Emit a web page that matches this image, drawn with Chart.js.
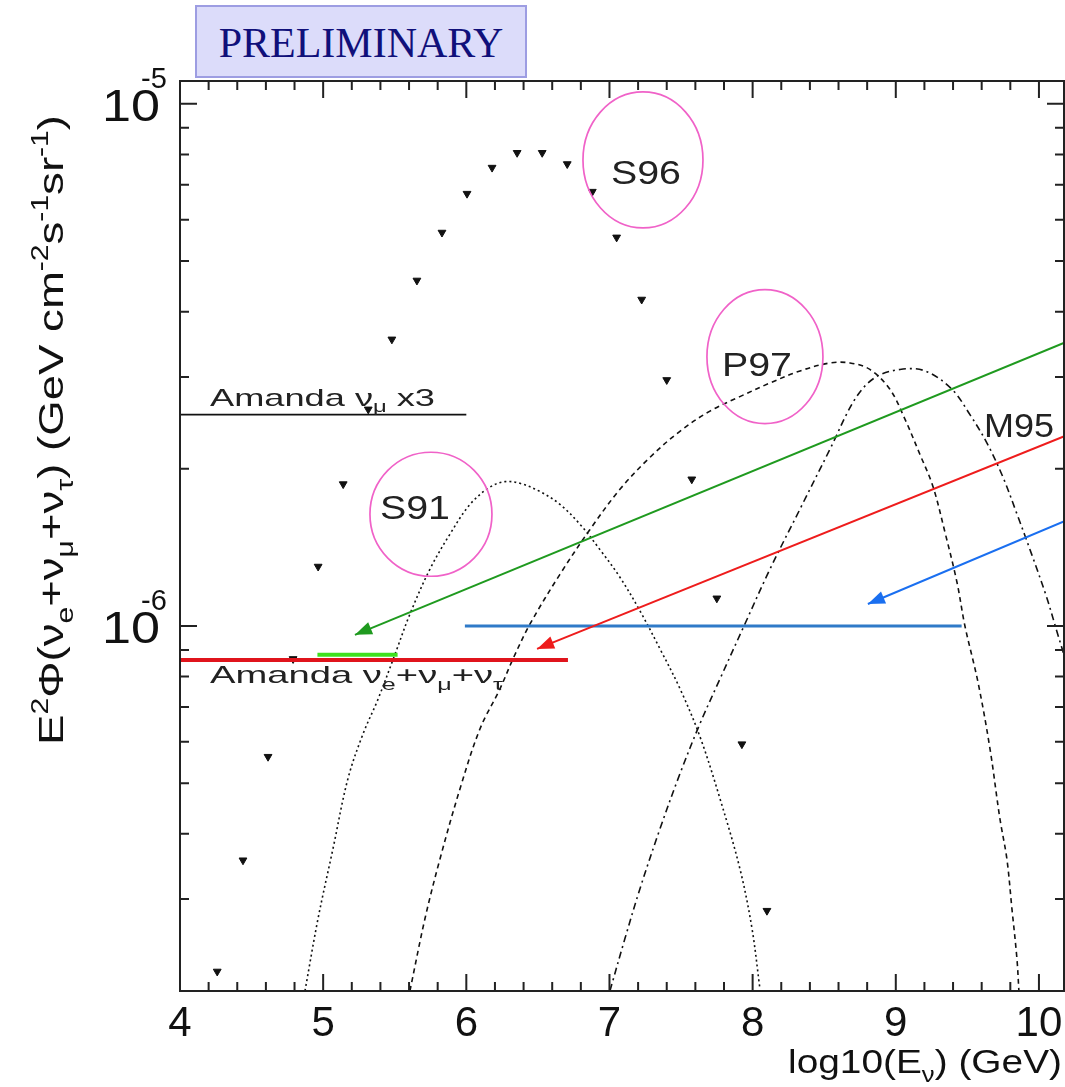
<!DOCTYPE html>
<html><head><meta charset="utf-8">
<script src="https://cdn.jsdelivr.net/npm/chart.js@4/dist/chart.umd.min.js"></script>
<style>
html,body{margin:0;padding:0;background:#fff;}
#wrap{position:relative;width:1065px;height:1087px;overflow:hidden;}
#c{position:absolute;left:0;top:0;}
#prelim{position:absolute;left:195px;top:5px;width:332px;height:73px;box-sizing:border-box;background:#dcdcfa;border:2px solid #9d9de2;font-family:'Liberation Serif','Times New Roman',serif;font-size:42px;color:#10107a;text-align:center;line-height:72px;}
</style></head><body>
<div id="wrap"><canvas id="c" width="1065" height="1087"></canvas><div id="prelim">PRELIMINARY</div></div>
<script>
// ---------- data ----------
const s96X = [4.26,4.44,4.615,4.79,4.965,5.14,5.315,5.48,5.655,5.83,6.005,6.18,6.355,6.53,6.705,6.88,7.05,7.225,7.40,7.575,7.75,7.925,8.10];
const s96Y = [2.18e-7,3.56e-7,5.62e-7,8.65e-7,1.30e-6,1.87e-6,2.60e-6,3.54e-6,4.59e-6,5.67e-6,6.73e-6,7.55e-6,8.06e-6,8.06e-6,7.67e-6,6.79e-6,5.55e-6,4.22e-6,2.96e-6,1.91e-6,1.13e-6,5.94e-7,2.85e-7];

const s91X = [4.873,4.964,5.069,5.173,5.278,5.383,5.502,5.606,5.746,5.886,6.026,6.165,6.270,6.375,6.514,6.654,6.794,6.934,7.073,7.213,7.353,7.493,7.632,7.772,7.911,7.995,8.051];
const s91Y = [2.0e-7,2.75e-7,3.75e-7,5.10e-7,6.21e-7,7.24e-7,8.83e-7,1.054e-6,1.285e-6,1.50e-6,1.71e-6,1.845e-6,1.89e-6,1.876e-6,1.81e-6,1.71e-6,1.566e-6,1.40e-6,1.24e-6,1.069e-6,9.04e-7,7.58e-7,6.14e-7,4.67e-7,3.43e-7,2.64e-7,2.02e-7];

const p97X = [5.606,5.711,5.816,5.956,6.095,6.235,6.326,6.445,6.654,6.864,7.073,7.283,7.492,7.702,7.911,8.121,8.331,8.540,8.680,8.819,8.959,9.064,9.169,9.259,9.343,9.427,9.483,9.574,9.658,9.727,9.776,9.811,9.846,9.860];
const p97Y = [2.0e-7,2.75e-7,3.58e-7,4.88e-7,6.35e-7,7.58e-7,8.65e-7,1.009e-6,1.256e-6,1.531e-6,1.827e-6,2.104e-6,2.36e-6,2.58e-6,2.75e-6,2.92e-6,3.08e-6,3.19e-6,3.19e-6,3.10e-6,2.84e-6,2.49e-6,2.13e-6,1.853e-6,1.514e-6,1.214e-6,1.0e-6,7.81e-7,5.82e-7,4.28e-7,3.58e-7,2.88e-7,2.31e-7,2.0e-7];

const m95X = [7.003,7.108,7.213,7.353,7.492,7.632,7.772,7.946,8.121,8.331,8.540,8.715,8.854,9.029,9.204,9.392,9.518,9.637,9.748,9.846,9.950,10.056,10.126,10.195];
const m95Y = [2.0e-7,2.52e-7,3.14e-7,4.09e-7,5.21e-7,6.50e-7,7.92e-7,1.009e-6,1.285e-6,1.675e-6,2.18e-6,2.72e-6,2.99e-6,3.10e-6,3.08e-6,2.84e-6,2.54e-6,2.24e-6,1.93e-6,1.64e-6,1.37e-6,1.13e-6,9.75e-7,8.45e-7];

// Amanda limits
const amandaMuX = [4.0, 6.0];        const amandaMuY = [2.54e-6, 2.54e-6];
const amandaAllX = [4.0, 6.71];      const amandaAllY = [8.61e-7, 8.61e-7];
const greenLimX = [4.96, 5.52];      const greenLimY = [8.81e-7, 8.81e-7];
const blueLimX = [5.99, 9.46];       const blueLimY = [1.0e-6, 1.0e-6];

// annotation arrows (tail -> head)
const greenArrowX = [10.18, 5.222];  const greenArrowY = [3.49e-6, 9.62e-7];
const redArrowX = [10.18, 6.494];    const redArrowY = [2.31e-6, 9.04e-7];
const blueArrowX = [10.18, 8.805];   const blueArrowY = [1.589e-6, 1.102e-6];

// circled model labels
const labelNames = ['S96','P97','S91','M95'];
const labelX = [7.255, 8.030, 5.641, 9.860];
const labelY = [7.41e-6, 3.17e-6, 1.69e-6, 2.43e-6];
const circleNames = ['S96','P97','S91'];
const circleX = [7.234, 8.086, 5.753];
const circleY = [7.81e-6, 3.28e-6, 1.637e-6];

// axes
const xMin = 4, xMax = 10.175, yMin = 2.0e-7, yMax = 1.106e-5;
const xTickValues = [4,5,6,7,8,9,10];
const xTickLabels = ['4','5','6','7','8','9','10'];
const yTickValues = [1e-6, 1e-5];
const yTickBase = ['10','10'];
const yTickExp = ['-6','-5'];

// ---------- helpers ----------
const FONT = "'Liberation Sans', Arial, Helvetica, sans-serif";
function pts(xs, ys){ return xs.map((x,i)=>({x:x, y:ys[i]})); }
function segFont(s, size){ const f = (s.k==='n') ? size : size*0.66; return Math.round(f*10)/10 + 'px ' + FONT; }
function richWidth(ctx, segs, size){ let w=0; for(const s of segs){ ctx.font = segFont(s,size); w += ctx.measureText(s.t).width; } return w; }
function drawRich(ctx, segs, x, y, size, align, width, rot){
  const nat = richWidth(ctx, segs, size);
  const sx = width ? width/nat : 1;
  ctx.save();
  ctx.translate(x,y);
  if(rot) ctx.rotate(rot);
  ctx.scale(sx,1);
  ctx.textAlign='left'; ctx.textBaseline='alphabetic';
  let cx = align==='center' ? -nat/2 : (align==='right' ? -nat : 0);
  for(const s of segs){
    ctx.font = segFont(s,size);
    const dy = s.k==='sub' ? size*0.28 : (s.k==='sup' ? -size*0.42 : 0);
    ctx.fillText(s.t, cx, dy);
    cx += ctx.measureText(s.t).width;
  }
  ctx.restore();
}

const arrowSets = [
  {x:greenArrowX, y:greenArrowY, c:'#1f9a1f'},
  {x:redArrowX, y:redArrowY, c:'#ee1c1c'},
  {x:blueArrowX, y:blueArrowY, c:'#1a6ff0'}
];

const decorPlugin = {
  id:'decor',
  afterDatasetsDraw(chart){
    const ctx = chart.ctx, xs = chart.scales.x, ys = chart.scales.y, a = chart.chartArea;
    ctx.save();
    ctx.beginPath(); ctx.rect(a.left,a.top,a.right-a.left,a.bottom-a.top); ctx.clip();
    arrowSets.forEach(s=>{
      const x0 = xs.getPixelForValue(s.x[0]), y0 = ys.getPixelForValue(s.y[0]);
      const x1 = xs.getPixelForValue(s.x[1]), y1 = ys.getPixelForValue(s.y[1]);
      const ang = Math.atan2(y1-y0, x1-x0), L = 17, W = 6.5;
      ctx.fillStyle = s.c;
      ctx.beginPath();
      ctx.moveTo(x1,y1);
      ctx.lineTo(x1 - L*Math.cos(ang) + W*Math.sin(ang), y1 - L*Math.sin(ang) - W*Math.cos(ang));
      ctx.lineTo(x1 - L*Math.cos(ang) - W*Math.sin(ang), y1 - L*Math.sin(ang) + W*Math.cos(ang));
      ctx.closePath(); ctx.fill();
    });
    ctx.strokeStyle = '#f062c8'; ctx.lineWidth = 1.7;
    const radii = [[60,68],[58,67],[61,62]];
    circleX.forEach((cx,i)=>{
      ctx.beginPath();
      ctx.ellipse(xs.getPixelForValue(cx), ys.getPixelForValue(circleY[i]), radii[i][0], radii[i][1], 0, 0, Math.PI*2);
      ctx.stroke();
    });
    ctx.fillStyle = '#222';
    labelNames.forEach((n,i)=>{
      drawRich(ctx, [{t:n,k:'n'}], xs.getPixelForValue(labelX[i]), ys.getPixelForValue(labelY[i]) + 12, 33, 'center', 70, 0);
    });
    drawRich(ctx, [{t:'Amanda \u03BD',k:'n'},{t:'\u03BC',k:'sub'},{t:' x3',k:'n'}], 210, ys.getPixelForValue(amandaMuY[0]) - 9, 24, 'left', 225, 0);
    drawRich(ctx, [{t:'Amanda \u03BD',k:'n'},{t:'e',k:'sub'},{t:'+\u03BD',k:'n'},{t:'\u03BC',k:'sub'},{t:'+\u03BD',k:'n'},{t:'\u03C4',k:'sub'}], 210, ys.getPixelForValue(amandaAllY[0]) + 23, 24, 'left', 293, 0);
    ctx.restore();
  },
  afterDraw(chart){
    const ctx = chart.ctx, xs = chart.scales.x, ys = chart.scales.y, a = chart.chartArea;
    ctx.save();
    ctx.strokeStyle = '#222'; ctx.lineWidth = 2;
    ctx.strokeRect(a.left, a.top, a.right-a.left, a.bottom-a.top);
    const MAJ = 17, MIN = 9;
    const xMinor = [];
    for(let v=4; v<=10.2; v+=0.2){ const r=Math.round(v*10)/10; if(Math.abs(r-Math.round(r))>1e-6) xMinor.push(r); }
    const tx = (v,len)=>{ const p = xs.getPixelForValue(v); if(p<a.left-0.5||p>a.right+0.5) return;
      ctx.beginPath(); ctx.moveTo(p,a.bottom); ctx.lineTo(p,a.bottom-len); ctx.moveTo(p,a.top); ctx.lineTo(p,a.top+len); ctx.stroke(); };
    xTickValues.forEach(v=>tx(v,MAJ)); xMinor.forEach(v=>tx(v,MIN));
    const yMinor = [];
    [1e-7,1e-6].forEach(d=>{ for(let m=2;m<=9;m++) yMinor.push(m*d); });
    const ty = (v,len)=>{ const p = ys.getPixelForValue(v); if(p<a.top-0.5||p>a.bottom+0.5) return;
      ctx.beginPath(); ctx.moveTo(a.left,p); ctx.lineTo(a.left+len,p); ctx.moveTo(a.right,p); ctx.lineTo(a.right-len,p); ctx.stroke(); };
    yTickValues.forEach(v=>ty(v,MAJ)); yMinor.forEach(v=>ty(v,MIN));
    ctx.fillStyle = '#111';
    ctx.font = '42px ' + FONT; ctx.textAlign='center'; ctx.textBaseline='alphabetic';
    xTickValues.forEach((v,i)=>{ ctx.fillText(xTickLabels[i], xs.getPixelForValue(v), a.bottom + 45); });
    yTickValues.forEach((v,i)=>{
      const p = ys.getPixelForValue(v);
      drawRich(ctx, [{t:yTickBase[i],k:'n'}], 160, p + 17, 44, 'right', 58, 0);
      ctx.font = '29px ' + FONT; ctx.textAlign='left';
      ctx.fillText(yTickExp[i], 141, p - 16);
    });
    drawRich(ctx, [{t:'log10(E',k:'n'},{t:'\u03BD',k:'sub'},{t:') (GeV)',k:'n'}], 1062, 1073, 33, 'right', 274, 0);
    drawRich(ctx, [
      {t:'E',k:'n'},{t:'2',k:'sup'},{t:'\u03A6(\u03BD',k:'n'},{t:'e',k:'sub'},{t:'+\u03BD',k:'n'},{t:'\u03BC',k:'sub'},
      {t:'+\u03BD',k:'n'},{t:'\u03C4',k:'sub'},{t:') (GeV cm',k:'n'},{t:'-2',k:'sup'},{t:'s',k:'n'},{t:'-1',k:'sup'},
      {t:'sr',k:'n'},{t:'-1',k:'sup'},{t:')',k:'n'}], 63, 430, 35, 'center', 630, -Math.PI/2);
    ctx.restore();
  }
};

const lineDs = (label, xs, ys, color, width, dash, tension) => ({
  type:'line', label, data: pts(xs,ys), borderColor:color, backgroundColor:color,
  borderWidth:width, borderDash:dash, pointRadius:0, fill:false, tension:tension||0, showLine:true
});

new Chart(document.getElementById('c'), {
  type:'scatter',
  data:{ datasets:[
    lineDs('green arrow', greenArrowX, greenArrowY, '#1f9a1f', 2, []),
    lineDs('red arrow', redArrowX, redArrowY, '#ee1c1c', 2, []),
    lineDs('blue arrow', blueArrowX, blueArrowY, '#1a6ff0', 2, []),
    lineDs('Amanda nu_e+nu_mu+nu_tau', amandaAllX, amandaAllY, '#e0141c', 4, []),
    lineDs('green limit', greenLimX, greenLimY, '#3ee01e', 4, []),
    lineDs('blue limit', blueLimX, blueLimY, '#2f7ac8', 3, []),
    lineDs('Amanda nu_mu x3', amandaMuX, amandaMuY, '#111', 1.6, []),
    { type:'scatter', label:'S96', data: pts(s96X,s96Y), pointStyle:'triangle', rotation:180, pointRadius:4.5,
      backgroundColor:'#111', borderColor:'#111', borderWidth:1, showLine:false },
    lineDs('S91', s91X, s91Y, '#111', 1.6, [2,3], 0.35),
    lineDs('P97', p97X, p97Y, '#111', 1.6, [5,4], 0.35),
    lineDs('M95', m95X, m95Y, '#111', 1.6, [7,4,2,4], 0.35)
  ]},
  options:{
    responsive:false, animation:false, devicePixelRatio:1,
    layout:{ autoPadding:false, padding:{ left:180, top:81, right:1, bottom:96 } },
    plugins:{ legend:{display:false}, tooltip:{enabled:false} },
    scales:{
      x:{ type:'linear', min:xMin, max:xMax, display:false },
      y:{ type:'logarithmic', min:yMin, max:yMax, display:false }
    }
  },
  plugins:[decorPlugin]
});
</script>
</body></html>
